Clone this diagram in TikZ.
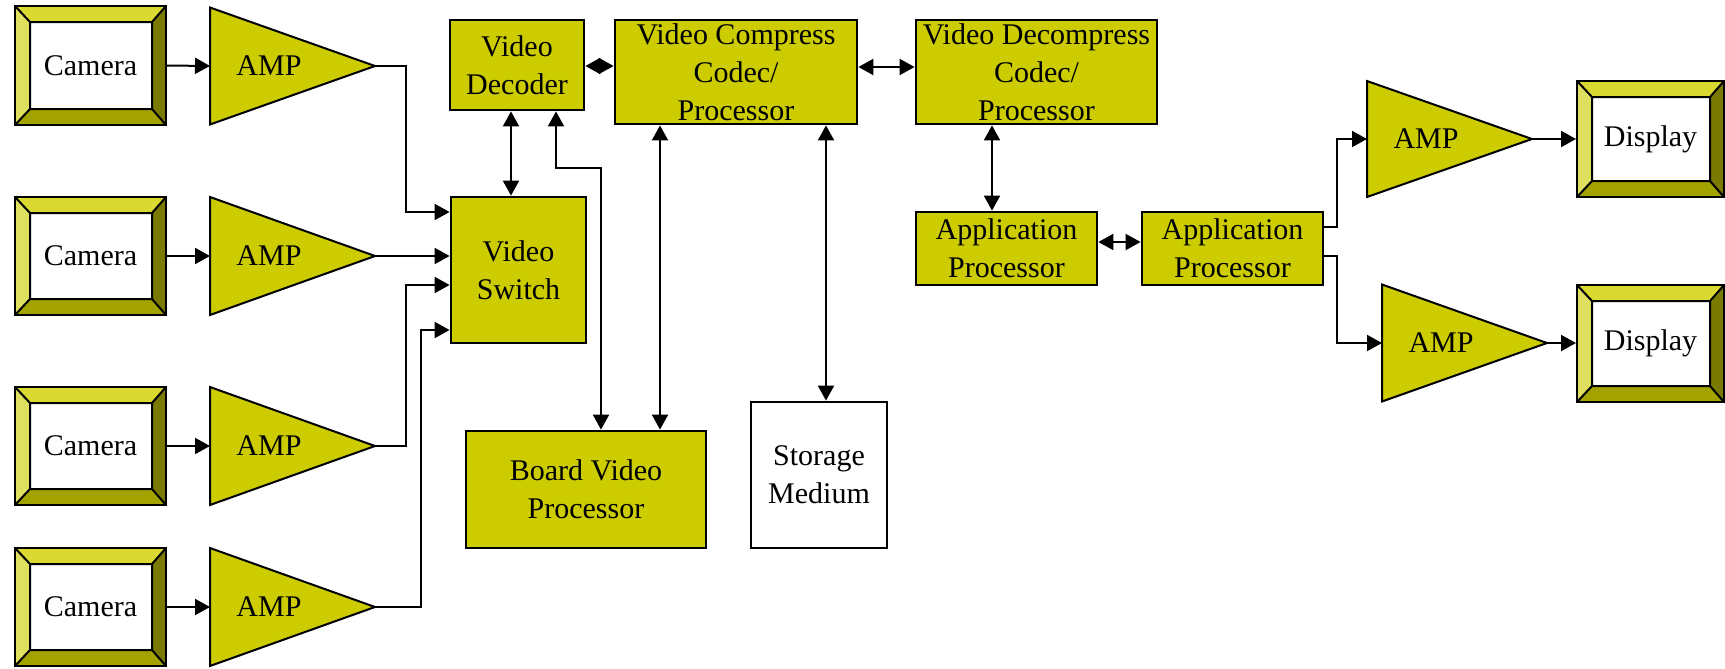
\documentclass[tikz,border=0pt]{standalone}
\usepackage{fontspec}
\setmainfont{Liberation Serif}
\usetikzlibrary{arrows.meta}

\definecolor{olive}{RGB}{204,204,0}
\definecolor{bevT}{RGB}{217,217,50}
\definecolor{bevL}{RGB}{224,224,96}
\definecolor{bevR}{RGB}{122,122,0}
\definecolor{bevB}{RGB}{163,163,0}

\tikzset{
  txt/.style={font=\fontsize{15}{19}\selectfont, align=center},
  box/.style={txt, draw=black, line width=1.4pt, fill=olive, inner sep=0pt},
  plainbox/.style={box, fill=white},
  monitor/.style={txt, draw=black, line width=1pt, fill=white, inner sep=0pt,
    path picture={
      \coordinate (pnw) at (path picture bounding box.north west);
      \coordinate (pne) at (path picture bounding box.north east);
      \coordinate (pse) at (path picture bounding box.south east);
      \coordinate (psw) at (path picture bounding box.south west);
      \coordinate (inw) at ([shift={(7.5pt,-8pt)}]pnw);
      \coordinate (ine) at ([shift={(-7pt,-8pt)}]pne);
      \coordinate (ise) at ([shift={(-7pt,8pt)}]pse);
      \coordinate (isw) at ([shift={(7.5pt,8pt)}]psw);
      \fill[bevT] (pnw) -- (pne) -- (ine) -- (inw) -- cycle;
      \fill[bevL] (pnw) -- (inw) -- (isw) -- (psw) -- cycle;
      \fill[bevR] (pne) -- (pse) -- (ise) -- (ine) -- cycle;
      \fill[bevB] (psw) -- (isw) -- (ise) -- (pse) -- cycle;
      \draw[line width=1pt] (inw) rectangle (ise)
        (pnw) -- (inw) (pne) -- (ine) (pse) -- (ise) (psw) -- (isw);
    }},
  ampshape/.style={draw=black, line width=1pt, fill=olive, line join=miter},
  amptext/.style={txt, inner sep=0pt},
  wire/.style={line width=1pt},
  tip/.tip={Triangle[length=7.5pt,width=8pt]},
  arr/.style={wire, -tip},
  darr/.style={wire, tip-tip},
}

% rectangular block given by its corners: style, name, x1, y1, x2, y2, text
\newcommand\blk[7]{%
  \node[#1, minimum width={(#5-#3)*0.5pt}, minimum height={(#6-#4)*0.5pt}]
    (#2) at ({(#3+#5)/2},{(#4+#6)/2}) {#7};
}

% amplifier triangle: name, left x, centre y, half height
\newcommand\ampnode[4]{%
  \draw[ampshape] (#2,{#3-#4}) -- ({#2+165},#3) -- (#2,{#3+#4}) -- cycle;
  \coordinate (#1-in) at (#2,#3);
  \coordinate (#1-out) at ({#2+165},#3);
  \node[amptext] (#1) at ({#2+59},#3) {AMP};
}

\begin{document}
\begin{tikzpicture}[x=0.5pt,y=-0.5pt]
\useasboundingbox (0,0) rectangle (1725,669);

% cameras and their amplifiers
\blk{monitor}{cam1}{15}{6}{166}{125}{Camera}
\blk{monitor}{cam2}{15}{197}{166}{315}{Camera}
\blk{monitor}{cam3}{15}{387}{166}{505}{Camera}
\blk{monitor}{cam4}{15}{548}{166}{666}{Camera}

\ampnode{a1}{210}{66}{58.5}
\ampnode{a2}{210}{256}{59}
\ampnode{a3}{210}{446}{59}
\ampnode{a4}{210}{607}{59}

% processing blocks
\blk{box}{dec}{450}{20}{584}{110}{Video\\Decoder}
\blk{box}{cmp}{615}{20}{857}{124}{Video Compress\\Codec/\\Processor}
\blk{box}{dcmp}{916}{20}{1157}{124}{Video Decompress\\Codec/\\Processor}
\blk{box}{sw}{451}{197}{586}{343}{Video\\Switch}
\blk{box}{bvp}{466}{431}{706}{548}{Board Video\\Processor}
\blk{plainbox}{sto}{751}{402}{887}{548}{Storage\\Medium}
\blk{box}{ap1}{916}{212}{1097}{285}{Application\\Processor}
\blk{box}{ap2}{1142}{212}{1323}{285}{Application\\Processor}

% output amplifiers and displays
\ampnode{r1}{1367}{139}{58}
\ampnode{r2}{1382}{343}{58.5}
\blk{monitor}{disp1}{1577}{81}{1724}{197}{Display}
\blk{monitor}{disp2}{1577}{285}{1724}{402}{Display}

% camera to amplifier
\draw[arr] (cam1.east) -- (a1-in);
\draw[arr] (cam2.east) -- (a2-in);
\draw[arr] (cam3.east) -- (a3-in);
\draw[arr] (cam4.east) -- (a4-in);

% amplifiers into the video switch
\draw[arr] (a1-out) -| (406,212) -- (sw.west |- 0,212);
\draw[arr] (a2-out) -- (sw.west |- 0,256);
\draw[arr] (a3-out) -| (406,285) -- (sw.west |- 0,285);
\draw[arr] (a4-out) -| (421,330) -- (sw.west |- 0,330);

% decoder / compressor links
\draw[darr] (dec.south -| 511,0) -- (sw.north -| 511,0);
\draw[darr] (dec.south -| 556,0) |- (601,168) -- (bvp.north -| 601,0);
\draw[darr] (dec.east |- 0,66) -- (cmp.west |- 0,66);
\draw[darr] (cmp.south -| 660,0) -- (bvp.north -| 660,0);
\draw[darr] (cmp.south -| 826,0) -- (sto.north -| 826,0);
\draw[darr] (cmp.east |- 0,67) -- (dcmp.west |- 0,67);
\draw[darr] (dcmp.south -| 992,0) -- (ap1.north -| 992,0);
\draw[darr] (ap1.east |- 0,242) -- (ap2.west |- 0,242);

% application processor to displays
\draw[arr] (ap2.east |- 0,227) -| (1337,139) -- (r1-in);
\draw[arr] (ap2.east |- 0,256) -| (1337,343) -- (r2-in);
\draw[arr] (r1-out) -- (disp1.west |- r1-out);
\draw[arr] (r2-out) -- (disp2.west |- r2-out);
\end{tikzpicture}
\end{document}
